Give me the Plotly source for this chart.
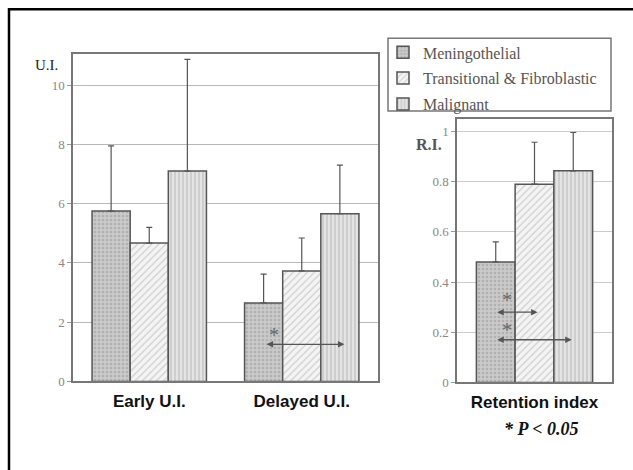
import plotly.graph_objects as go

# ---- data ----
categories = ["Early U.I.", "Delayed U.I."]
ri_category = ["Retention index"]
series_names = ["Meningothelial", "Transitional & Fibroblastic", "Malignant"]

ui_mening = [5.75, 2.65]
ui_trans = [4.67, 3.73]
ui_malig = [7.1, 5.66]
ui_mening_err = [2.2, 0.97]
ui_trans_err = [0.53, 1.11]
ui_malig_err = [3.77, 1.64]

ri_mening = [0.48]
ri_trans = [0.79]
ri_malig = [0.843]
ri_mening_err = [0.08]
ri_trans_err = [0.167]
ri_malig_err = [0.153]

left_ticks = [0, 2, 4, 6, 8, 10]
right_ticks = [0, 0.2, 0.4, 0.6, 0.8, 1]

W, H = 633, 470
def px(x): return x / W
def py(y): return 1 - y / H

edge = "#555555"
styles = [
    dict(shape=".", bgcolor="#cacaca", fgcolor="#949494", size=4, solidity=0.35),
    dict(shape="/", bgcolor="#f4f4f4", fgcolor="#a8a8a8", size=5, solidity=0.25),
    dict(shape="|", bgcolor="#e4e4e4", fgcolor="#999999", size=4, solidity=0.3),
]
ui_vals = [ui_mening, ui_trans, ui_malig]
ui_errs = [ui_mening_err, ui_trans_err, ui_malig_err]
ri_vals = [ri_mening, ri_trans, ri_malig]
ri_errs = [ri_mening_err, ri_trans_err, ri_malig_err]

fig = go.Figure()
for i, name in enumerate(series_names):
    st = styles[i]
    marker = dict(color=st["bgcolor"], line=dict(color=edge, width=1.5),
                  pattern=dict(shape=st["shape"], bgcolor=st["bgcolor"], fgcolor=st["fgcolor"],
                               size=st["size"], solidity=st["solidity"], fillmode="overlay"))
    err = dict(color=edge, thickness=1.2, width=3)
    fig.add_trace(go.Bar(x=categories, y=ui_vals[i], name=name, marker=marker,
                         error_y=dict(type="data", array=ui_errs[i], arrayminus=[0] * len(categories), symmetric=False, **err),
                         xaxis="x", yaxis="y", legendgroup=name, showlegend=True))
    fig.add_trace(go.Bar(x=ri_category, y=ri_vals[i], name=name, marker=marker,
                         error_y=dict(type="data", array=ri_errs[i], arrayminus=[0], symmetric=False, **err),
                         xaxis="x2", yaxis="y2", legendgroup=name, showlegend=False))

axis_common = dict(showline=True, linecolor="#777777", linewidth=1.5, mirror=True)
cat_font = dict(family="Liberation Sans", size=17, color="#111111", weight="bold")
fig.update_layout(
    width=W, height=H,
    margin=dict(l=0, r=0, t=0, b=0),
    paper_bgcolor="white", plot_bgcolor="white",
    barmode="group", bargap=0.25, bargroupgap=0,
    font=dict(family="Liberation Serif", color="#666666"),
    xaxis=dict(domain=[px(73), px(378)], anchor="y", **axis_common,
               tickfont=cat_font, ticks="", ticklabelstandoff=3),
    yaxis=dict(domain=[py(388), py(55)], anchor="x", range=[0, 11.05], tickvals=left_ticks,
               **axis_common, showgrid=True, gridcolor="#b8b8b8", gridwidth=1,
               ticks="outside", ticklen=4, tickcolor="#999999",
               tickfont=dict(family="Liberation Serif", size=13, color="#888888")),
    xaxis2=dict(domain=[px(457), px(612)], anchor="y2", **axis_common,
                tickfont=cat_font, ticks="", ticklabelstandoff=3),
    yaxis2=dict(domain=[py(389), py(121)], anchor="x2", range=[0, 1.05], tickvals=right_ticks,
                **axis_common, showgrid=True, gridcolor="#cccccc", gridwidth=1,
                ticks="outside", ticklen=4, tickcolor="#999999",
                tickfont=dict(family="Liberation Serif", size=13, color="#888888")),
    legend=dict(x=px(383), y=py(36), xanchor="left", yanchor="top",
                borderwidth=0, bgcolor="rgba(0,0,0,0)",
                font=dict(family="Liberation Serif", size=16, color="#555555"),
                tracegroupgap=2, itemwidth=30),
    showlegend=True,
)

# legend box
fig.add_shape(type="rect", xref="paper", yref="paper", x0=px(388), y0=py(113), x1=px(611), y1=py(39),
              line=dict(color="#777777", width=1.5), layer="above")
# outer frame
fig.add_shape(type="rect", xref="paper", yref="paper", x0=px(9), y0=py(H + 40), x1=px(W + 40), y1=py(9.5),
              line=dict(color="black", width=2.5))

# axis titles
fig.add_annotation(xref="paper", yref="paper", x=px(47), y=py(66), xanchor="center", yanchor="middle",
                   text="U.I.", showarrow=False,
                   font=dict(family="Liberation Serif", size=15, color="#222222"))
fig.add_annotation(xref="paper", yref="paper", x=px(429), y=py(147), xanchor="center", yanchor="middle",
                   text="<b>R.I.</b>", showarrow=False,
                   font=dict(family="Liberation Serif", size=16, color="#555555"))
fig.add_annotation(xref="paper", yref="paper", x=px(541), y=py(436), xanchor="center", yanchor="middle",
                   text="<b><i>* P &lt; 0.05</i></b>",
                   showarrow=False, font=dict(family="Liberation Serif", size=18, color="#111111"))

# significance arrows
def sig(xa, ya, x0, x1, y, sx, sy):
    fig.add_annotation(xref=xa, yref=ya, axref=xa, ayref=ya, x=x1, y=y, ax=x0, ay=y, text="",
                       showarrow=True, arrowhead=2, arrowside="end+start", arrowsize=1,
                       arrowwidth=1.3, arrowcolor="#555555")
    fig.add_annotation(xref=xa, yref=ya, x=sx, y=sy, text="*", showarrow=False,
                       xanchor="center", yanchor="middle",
                       font=dict(family="Liberation Serif", size=20, color="#666666"))

sig("x", "y", 1 - 0.24, 1 + 0.28, 1.25, 1 - 0.18, 1.55)
sig("x2", "y2", -0.25, 0.02, 0.28, -0.18, 0.33)
sig("x2", "y2", -0.25, 0.24, 0.17, -0.18, 0.21)

# remove the page's default body margin so figure pixels match the window
fig.write_html("out.html", config={"displayModeBar": False},
               post_script="document.body.style.margin='0';document.body.style.overflow='hidden';")
